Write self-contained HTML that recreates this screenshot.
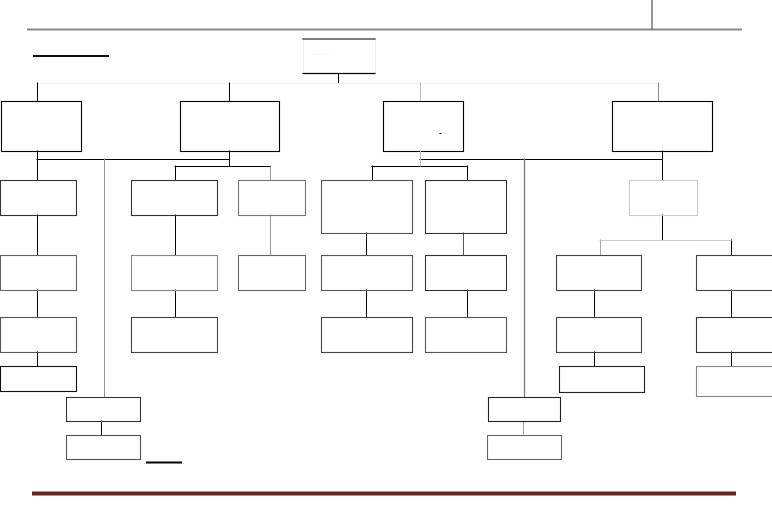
<!DOCTYPE html>
<html><head><meta charset="utf-8"><style>
html,body{margin:0;padding:0;background:#fff;width:772px;height:511px;overflow:hidden;font-family:"Liberation Sans",sans-serif;}
</style></head><body>
<svg width="772" height="511" viewBox="0 0 772 511" xmlns="http://www.w3.org/2000/svg">
<g fill="none" stroke-linecap="square">
<!-- header -->
<line x1="28" y1="29.5" x2="741" y2="29.5" stroke="#888" stroke-width="2"/>
<line x1="652" y1="0" x2="652" y2="29" stroke="#777" stroke-width="1.5"/>
<line x1="34" y1="56" x2="108" y2="56" stroke="#111" stroke-width="2"/>
<!-- top box -->
<rect x="303.5" y="38.5" width="72" height="35" stroke="#eee"/>
<line x1="303" y1="39" x2="375" y2="39" stroke="#555" stroke-width="1.5"/>
<line x1="303" y1="73.5" x2="375" y2="73.5" stroke="#000" stroke-width="1.2"/>
<text x="315" y="55" font-size="4" fill="#888" stroke="none">. . . . .  . .</text>
<line x1="338.5" y1="74" x2="338.5" y2="83" stroke="#000"/>
<line x1="37" y1="83.5" x2="658" y2="83.5" stroke="#f2f2f2"/>
<line x1="37.5" y1="83" x2="37.5" y2="101" stroke="#000"/>
<line x1="229.5" y1="83" x2="229.5" y2="101" stroke="#000"/>
<line x1="420.5" y1="83" x2="420.5" y2="101" stroke="#bbb"/>
<line x1="658.5" y1="83" x2="658.5" y2="101" stroke="#888"/>
<!-- row1 -->
<g stroke="#000" stroke-width="1.1">
<rect x="1.5" y="101.5" width="80" height="50"/>
<rect x="180.5" y="101.5" width="99" height="50"/>
<rect x="383.5" y="101.5" width="80" height="50"/>
<rect x="612.5" y="101.5" width="100" height="50"/>
</g>
<!-- left tree -->
<g stroke="#000">
<line x1="37.5" y1="151" x2="37.5" y2="180"/>
<line x1="37" y1="159.5" x2="229" y2="159.5"/>
<line x1="229.5" y1="151" x2="229.5" y2="166"/>
<line x1="175" y1="166.5" x2="270" y2="166.5"/>
<line x1="175.5" y1="166" x2="175.5" y2="180"/>
<line x1="37.5" y1="215" x2="37.5" y2="255"/>
<line x1="37.5" y1="290" x2="37.5" y2="317"/>
<line x1="37.5" y1="352" x2="37.5" y2="366"/>
<line x1="175.5" y1="215" x2="175.5" y2="255"/>
<line x1="175.5" y1="290" x2="175.5" y2="317"/>
<line x1="101.5" y1="421" x2="101.5" y2="435"/>
</g>
<line x1="270.5" y1="166" x2="270.5" y2="180" stroke="#999"/>
<line x1="270.5" y1="215" x2="270.5" y2="255" stroke="#999"/>
<line x1="104.5" y1="159" x2="104.5" y2="397" stroke="#999"/>
<!-- right tree -->
<g stroke="#000">
<line x1="420" y1="159.5" x2="662" y2="159.5"/>
<line x1="662.5" y1="151" x2="662.5" y2="180"/>
<line x1="372" y1="166.5" x2="467" y2="166.5"/>
<line x1="372.5" y1="166" x2="372.5" y2="180"/>
<line x1="467.5" y1="166" x2="467.5" y2="180"/>
<line x1="366.5" y1="233" x2="366.5" y2="255"/>
<line x1="366.5" y1="290" x2="366.5" y2="317"/>
<line x1="467.5" y1="290" x2="467.5" y2="317"/>
<line x1="662.5" y1="215" x2="662.5" y2="240"/>
<line x1="731.5" y1="240" x2="731.5" y2="255"/>
<line x1="594.5" y1="290" x2="594.5" y2="317"/>
<line x1="594.5" y1="352" x2="594.5" y2="366"/>
<line x1="731.5" y1="290" x2="731.5" y2="317"/>
<line x1="731.5" y1="352" x2="731.5" y2="366"/>
</g>
<line x1="463.5" y1="233" x2="463.5" y2="255" stroke="#555"/>
<line x1="420.5" y1="151" x2="420.5" y2="166" stroke="#bbb"/>
<line x1="600" y1="240.5" x2="731" y2="240.5" stroke="#ccc"/>
<line x1="600.5" y1="240" x2="600.5" y2="255" stroke="#aaa"/>
<line x1="524.5" y1="159" x2="524.5" y2="397" stroke="#777" stroke-width="1.3"/>
<line x1="523.5" y1="421" x2="523.5" y2="435" stroke="#aaa"/>
<!-- boxes -->
<g stroke="#333" stroke-width="1.1">
<rect x="0.5" y="180.5" width="76" height="35"/>
<rect x="131.5" y="180.5" width="86" height="35"/>
<rect x="238.5" y="180.5" width="67" height="35" stroke="#777"/>
<rect x="321.5" y="180.5" width="91" height="53" stroke="#555"/>
<rect x="425.5" y="180.5" width="81" height="53"/>
<rect x="629.5" y="180.5" width="68" height="35" stroke="#ccc"/>
<rect x="0.5" y="255.5" width="76" height="35" stroke="#666"/>
<rect x="131.5" y="255.5" width="86" height="35" stroke="#888"/>
<rect x="238.5" y="255.5" width="67" height="35" stroke="#666"/>
<rect x="321.5" y="255.5" width="91" height="35" stroke="#555"/>
<rect x="425.5" y="255.5" width="81" height="35"/>
<rect x="556.5" y="255.5" width="85" height="35" stroke="#444"/>
<rect x="696.5" y="255.5" width="80" height="35" stroke="#444"/>
<rect x="0.5" y="317.5" width="76" height="35" stroke="#555"/>
<rect x="131.5" y="317.5" width="86" height="35" stroke="#444"/>
<rect x="321.5" y="317.5" width="91" height="35" stroke="#444"/>
<rect x="425.5" y="317.5" width="81" height="35" stroke="#555"/>
<rect x="556.5" y="317.5" width="85" height="35" stroke="#444"/>
<rect x="696.5" y="317.5" width="80" height="35" stroke="#333"/>
<rect x="0.5" y="366.5" width="76" height="25" stroke="#111"/>
<rect x="559.5" y="366.5" width="85" height="26" stroke="#222"/>
<rect x="696.5" y="366.5" width="80" height="30" stroke="#888"/>
<rect x="66.5" y="397.5" width="74" height="24" stroke="#333"/>
<rect x="66.5" y="435.5" width="74" height="24" stroke="#555"/>
<rect x="488.5" y="397.5" width="72" height="24" stroke="#222"/>
<rect x="487.5" y="435.5" width="74" height="24" stroke="#666"/>
</g>
<line x1="147" y1="462.5" x2="181" y2="462.5" stroke="#000" stroke-width="2"/>
<line x1="440" y1="133.5" x2="441" y2="133.5" stroke="#000"/>
<!-- footer -->
<line x1="32" y1="493.5" x2="736" y2="493.5" stroke="#632523" stroke-width="4" stroke-linecap="butt"/>
</g>
</svg>
</body></html>
